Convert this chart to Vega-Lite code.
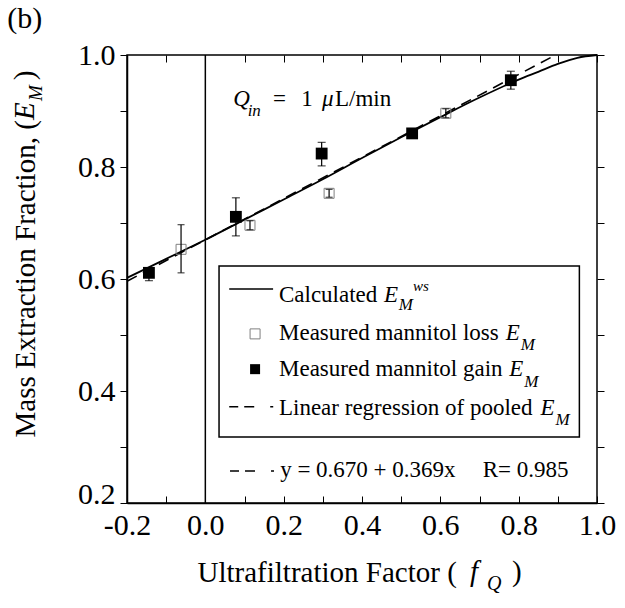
{
  "$schema": "https://vega.github.io/schema/vega-lite/v6.json",
  "width": 470,
  "height": 448,
  "autosize": {"type": "none"},
  "padding": {"left": 127, "top": 55, "right": 28, "bottom": 105},
  "background": "white",
  "config": {"view": {"stroke": "black", "strokeWidth": 1.5}},
  "datasets": {
    "calc": [
      {"x": -0.2, "y": 0.602}, {"x": -0.1, "y": 0.636}, {"x": 0.0, "y": 0.670}, {"x": 0.1, "y": 0.706},
      {"x": 0.2, "y": 0.742}, {"x": 0.3, "y": 0.778}, {"x": 0.4, "y": 0.816}, {"x": 0.5, "y": 0.853},
      {"x": 0.6, "y": 0.889}, {"x": 0.7, "y": 0.924}, {"x": 0.8, "y": 0.956}, {"x": 0.85, "y": 0.970},
      {"x": 0.9, "y": 0.984}, {"x": 0.95, "y": 0.995}, {"x": 1.0, "y": 1.0}
    ],
    "reg": [{"x": -0.2, "y": 0.596}, {"x": 0.894, "y": 1.0}],
    "zero": [{"x": 0}],
    "gain": [
      {"x": -0.144, "y": 0.611, "lo": 0.597, "hi": 0.620},
      {"x": 0.078, "y": 0.711, "lo": 0.677, "hi": 0.745},
      {"x": 0.297, "y": 0.824, "lo": 0.802, "hi": 0.844},
      {"x": 0.528, "y": 0.860, "lo": 0.855, "hi": 0.866},
      {"x": 0.780, "y": 0.955, "lo": 0.939, "hi": 0.971}
    ],
    "loss": [
      {"x": -0.062, "y": 0.653, "lo": 0.611, "hi": 0.697},
      {"x": 0.114, "y": 0.696, "lo": 0.688, "hi": 0.704},
      {"x": 0.316, "y": 0.753, "lo": 0.746, "hi": 0.760},
      {"x": 0.614, "y": 0.896, "lo": 0.888, "hi": 0.904}
    ],
    "box": [{"x1": 0.035, "x2": 0.955, "y1": 0.318, "y2": 0.623}],
    "legLine": [{"x1": 0.061, "x2": 0.173, "y": 0.582}],
    "legDash": [{"x1": 0.061, "x2": 0.176, "y": 0.372}, {"x1": 0.063, "x2": 0.182, "y": 0.257}],
    "legOpen": [{"x": 0.127, "y": 0.502}],
    "legFilled": [{"x": 0.127, "y": 0.439}],
    "panel": [{"x": -0.506, "y": 1.048, "t": "(b)"}],
    "txtMain": [
      {"x": 0.173, "y": 0.909, "t": "="},
      {"x": 0.245, "y": 0.909, "t": "1"},
      {"x": 0.331, "y": 0.909, "t": "L/min"},
      {"x": 0.188, "y": 0.559, "t": "Calculated"},
      {"x": 0.188, "y": 0.491, "t": "Measured mannitol loss"},
      {"x": 0.188, "y": 0.426, "t": "Measured mannitol gain"},
      {"x": 0.188, "y": 0.357, "t": "Linear regression of pooled"},
      {"x": 0.191, "y": 0.247, "t": "y = 0.670 + 0.369x"},
      {"x": 0.708, "y": 0.247, "t": "R= 0.985"}
    ],
    "txtItal": [
      {"x": 0.0714, "y": 0.909, "t": "Q"},
      {"x": 0.298, "y": 0.909, "t": "μ"},
      {"x": 0.456, "y": 0.559, "t": "E"},
      {"x": 0.767, "y": 0.491, "t": "E"},
      {"x": 0.776, "y": 0.426, "t": "E"},
      {"x": 0.856, "y": 0.357, "t": "E"}
    ],
    "txtSub": [
      {"x": 0.108, "y": 0.891, "t": "in"},
      {"x": 0.494, "y": 0.545, "t": "M"},
      {"x": 0.805, "y": 0.474, "t": "M"},
      {"x": 0.814, "y": 0.408, "t": "M"},
      {"x": 0.894, "y": 0.339, "t": "M"}
    ],
    "txtSup": [{"x": 0.530, "y": 0.579, "t": "ws"}],
    "yTitleE": [{"x": -0.438, "y": 0.884, "t": "E"}],
    "yTitleM": [{"x": -0.417, "y": 0.918, "t": "M"}],
    "yTitleP": [{"x": -0.438, "y": 0.955, "t": ")"}],
    "xTitleF": [{"x": 0.676, "y": 0.0607, "t": "f"}],
    "xTitleQ": [{"x": 0.719, "y": 0.0446, "t": "Q"}],
    "xTitleP": [{"x": 0.783, "y": 0.0607, "t": ")"}]
  },
  "layer": [
    {
      "data": {"name": "calc"},
      "mark": {"type": "line", "color": "black", "strokeWidth": 1.8, "interpolate": "monotone"},
      "encoding": {
        "x": {"field": "x", "type": "quantitative", "scale": {"domain": [-0.2, 1.0], "nice": false, "zero": false},
          "axis": {"orient": "bottom", "values": [-0.2, -0.1, 0, 0.1, 0.2, 0.3, 0.4, 0.5, 0.6, 0.7, 0.8, 0.9, 1.0],
            "labelExpr": "abs(round(datum.value*10)) % 2 == 0 ? replace(format(datum.value, '.1f'), '\u2212', '-') : ''",
            "grid": false, "tickSize": -7, "tickColor": "black", "tickWidth": 1, "domainColor": "black", "domainWidth": 1.5,
            "labelFont": "Liberation Serif", "labelFontSize": 30, "labelColor": "black", "labelPadding": 38, "labelBaseline": "alphabetic",
            "labelFlush": false, "labelOverlap": false,
            "title": "Ultrafiltration Factor (", "titleFont": "Liberation Serif", "titleFontSize": 29, "titleFontWeight": "normal", "titleColor": "black",
            "titleX": 70, "titleY": 78, "titleAlign": "left", "titleBaseline": "alphabetic"}},
        "y": {"field": "y", "type": "quantitative", "scale": {"domain": [0.2, 1.0], "nice": false, "zero": false},
          "axis": {"orient": "left", "values": [0.2, 0.3, 0.4, 0.5, 0.6, 0.7, 0.8, 0.9, 1.0],
            "labelExpr": "round(datum.value*10) % 2 == 0 ? format(datum.value, '.1f') : ''",
            "grid": false, "tickSize": 7, "tickColor": "black", "tickWidth": 1, "domainColor": "black", "domainWidth": 1.5,
            "labelFont": "Liberation Serif", "labelFontSize": 30, "labelColor": "black", "labelPadding": 5,
            "labelBaseline": {"condition": {"test": "datum.value < 0.25", "value": "alphabetic"}, "value": "middle"},
            "labelFlush": false, "labelOverlap": false,
            "title": "Mass Extraction Fraction, (", "titleFont": "Liberation Serif", "titleFontSize": 29, "titleFontWeight": "normal", "titleColor": "black",
            "titleX": -93, "titleY": 382, "titleAngle": 270, "titleAlign": "left", "titleBaseline": "alphabetic"}}
      }
    },
    {
      "data": {"name": "reg"},
      "mark": {"type": "line", "color": "black", "strokeWidth": 1.6, "strokeDash": [11, 7]},
      "encoding": {
        "x": {"field": "x", "type": "quantitative", "scale": {"domain": [-0.2, 1.0], "nice": false, "zero": false},
          "axis": {"orient": "top", "values": [-0.2, -0.1, 0, 0.1, 0.2, 0.3, 0.4, 0.5, 0.6, 0.7, 0.8, 0.9, 1.0], "labels": false, "domain": false, "grid": false,
            "tickSize": -7, "tickColor": "black", "tickWidth": 1, "title": null}},
        "y": {"field": "y", "type": "quantitative", "scale": {"domain": [0.2, 1.0], "nice": false, "zero": false},
          "axis": {"orient": "right", "values": [0.2, 0.3, 0.4, 0.5, 0.6, 0.7, 0.8, 0.9, 1.0], "labels": false, "domain": false, "grid": false,
            "tickSize": 7, "tickColor": "black", "tickWidth": 1, "title": null}}
      }
    },
    {
      "data": {"name": "zero"},
      "mark": {"type": "rule", "color": "black", "strokeWidth": 1.5},
      "encoding": {"x": {"field": "x", "type": "quantitative", "scale": {"domain": [-0.2, 1.0], "nice": false, "zero": false}, "axis": null}}
    },
    {
      "data": {"name": "box"},
      "mark": {"type": "rect", "fill": "white", "stroke": "black", "strokeWidth": 1.5},
      "encoding": {
        "x": {"field": "x1", "type": "quantitative", "scale": {"domain": [-0.2, 1.0], "nice": false, "zero": false}, "axis": null},
        "x2": {"field": "x2"},
        "y": {"field": "y1", "type": "quantitative", "scale": {"domain": [0.2, 1.0], "nice": false, "zero": false}, "axis": null},
        "y2": {"field": "y2"}
      }
    },
    {
      "data": {"name": "gain"},
      "layer": [
        {"mark": {"type": "rule", "color": "black", "strokeWidth": 1.2},
         "encoding": {"x": {"field": "x", "type": "quantitative", "scale": {"domain": [-0.2, 1.0], "nice": false, "zero": false}, "axis": null},
           "y": {"field": "lo", "type": "quantitative", "scale": {"domain": [0.2, 1.0], "nice": false, "zero": false}, "axis": null}, "y2": {"field": "hi"}}},
        {"mark": {"type": "tick", "orient": "horizontal", "color": "black", "size": 8, "thickness": 1.2},
         "encoding": {"x": {"field": "x", "type": "quantitative", "scale": {"domain": [-0.2, 1.0], "nice": false, "zero": false}, "axis": null},
           "y": {"field": "lo", "type": "quantitative", "scale": {"domain": [0.2, 1.0], "nice": false, "zero": false}, "axis": null}}},
        {"mark": {"type": "tick", "orient": "horizontal", "color": "black", "size": 8, "thickness": 1.2},
         "encoding": {"x": {"field": "x", "type": "quantitative", "scale": {"domain": [-0.2, 1.0], "nice": false, "zero": false}, "axis": null},
           "y": {"field": "hi", "type": "quantitative", "scale": {"domain": [0.2, 1.0], "nice": false, "zero": false}, "axis": null}}},
        {"mark": {"type": "square", "color": "black", "filled": true, "opacity": 1, "size": 140},
         "encoding": {"x": {"field": "x", "type": "quantitative", "scale": {"domain": [-0.2, 1.0], "nice": false, "zero": false}, "axis": null},
           "y": {"field": "y", "type": "quantitative", "scale": {"domain": [0.2, 1.0], "nice": false, "zero": false}, "axis": null}}}
      ]
    },
    {
      "data": {"name": "loss"},
      "layer": [
        {"mark": {"type": "square", "stroke": "#808080", "fill": null, "filled": false, "strokeWidth": 1, "opacity": 1, "size": 100},
         "encoding": {"x": {"field": "x", "type": "quantitative", "scale": {"domain": [-0.2, 1.0], "nice": false, "zero": false}, "axis": null},
           "y": {"field": "y", "type": "quantitative", "scale": {"domain": [0.2, 1.0], "nice": false, "zero": false}, "axis": null}}},
        {"mark": {"type": "rule", "color": "black", "strokeWidth": 1.2},
         "encoding": {"x": {"field": "x", "type": "quantitative", "scale": {"domain": [-0.2, 1.0], "nice": false, "zero": false}, "axis": null},
           "y": {"field": "lo", "type": "quantitative", "scale": {"domain": [0.2, 1.0], "nice": false, "zero": false}, "axis": null}, "y2": {"field": "hi"}}},
        {"mark": {"type": "tick", "orient": "horizontal", "color": "black", "size": 7, "thickness": 1.2},
         "encoding": {"x": {"field": "x", "type": "quantitative", "scale": {"domain": [-0.2, 1.0], "nice": false, "zero": false}, "axis": null},
           "y": {"field": "lo", "type": "quantitative", "scale": {"domain": [0.2, 1.0], "nice": false, "zero": false}, "axis": null}}},
        {"mark": {"type": "tick", "orient": "horizontal", "color": "black", "size": 7, "thickness": 1.2},
         "encoding": {"x": {"field": "x", "type": "quantitative", "scale": {"domain": [-0.2, 1.0], "nice": false, "zero": false}, "axis": null},
           "y": {"field": "hi", "type": "quantitative", "scale": {"domain": [0.2, 1.0], "nice": false, "zero": false}, "axis": null}}}
      ]
    },
    {
      "data": {"name": "legLine"},
      "mark": {"type": "rule", "color": "black", "strokeWidth": 1.5},
      "encoding": {
        "x": {"field": "x1", "type": "quantitative", "scale": {"domain": [-0.2, 1.0], "nice": false, "zero": false}, "axis": null},
        "x2": {"field": "x2"},
        "y": {"field": "y", "type": "quantitative", "scale": {"domain": [0.2, 1.0], "nice": false, "zero": false}, "axis": null}
      }
    },
    {
      "data": {"name": "legDash"},
      "mark": {"type": "rule", "color": "black", "strokeWidth": 1.5, "strokeDash": [9, 6, 10, 16, 3, 100]},
      "encoding": {
        "x": {"field": "x1", "type": "quantitative", "scale": {"domain": [-0.2, 1.0], "nice": false, "zero": false}, "axis": null},
        "x2": {"field": "x2"},
        "y": {"field": "y", "type": "quantitative", "scale": {"domain": [0.2, 1.0], "nice": false, "zero": false}, "axis": null}
      }
    },
    {
      "data": {"name": "legOpen"},
      "mark": {"type": "square", "stroke": "#808080", "fill": "white", "filled": false, "strokeWidth": 1, "opacity": 1, "size": 100},
      "encoding": {
        "x": {"field": "x", "type": "quantitative", "scale": {"domain": [-0.2, 1.0], "nice": false, "zero": false}, "axis": null},
        "y": {"field": "y", "type": "quantitative", "scale": {"domain": [0.2, 1.0], "nice": false, "zero": false}, "axis": null}
      }
    },
    {
      "data": {"name": "legFilled"},
      "mark": {"type": "square", "color": "black", "filled": true, "opacity": 1, "size": 100},
      "encoding": {
        "x": {"field": "x", "type": "quantitative", "scale": {"domain": [-0.2, 1.0], "nice": false, "zero": false}, "axis": null},
        "y": {"field": "y", "type": "quantitative", "scale": {"domain": [0.2, 1.0], "nice": false, "zero": false}, "axis": null}
      }
    },
    {
      "data": {"name": "panel"},
      "mark": {"type": "text", "font": "Liberation Serif", "fontSize": 30, "color": "black", "align": "left", "baseline": "alphabetic"},
      "encoding": {
        "x": {"field": "x", "type": "quantitative", "scale": {"domain": [-0.2, 1.0], "nice": false, "zero": false}, "axis": null},
        "y": {"field": "y", "type": "quantitative", "scale": {"domain": [0.2, 1.0], "nice": false, "zero": false}, "axis": null},
        "text": {"field": "t"}
      }
    },
    {
      "data": {"name": "txtMain"},
      "mark": {"type": "text", "font": "Liberation Serif", "fontSize": 23, "color": "black", "align": "left", "baseline": "alphabetic"},
      "encoding": {
        "x": {"field": "x", "type": "quantitative", "scale": {"domain": [-0.2, 1.0], "nice": false, "zero": false}, "axis": null},
        "y": {"field": "y", "type": "quantitative", "scale": {"domain": [0.2, 1.0], "nice": false, "zero": false}, "axis": null},
        "text": {"field": "t"}
      }
    },
    {
      "data": {"name": "txtItal"},
      "mark": {"type": "text", "font": "Liberation Serif", "fontSize": 23, "fontStyle": "italic", "color": "black", "align": "left", "baseline": "alphabetic"},
      "encoding": {
        "x": {"field": "x", "type": "quantitative", "scale": {"domain": [-0.2, 1.0], "nice": false, "zero": false}, "axis": null},
        "y": {"field": "y", "type": "quantitative", "scale": {"domain": [0.2, 1.0], "nice": false, "zero": false}, "axis": null},
        "text": {"field": "t"}
      }
    },
    {
      "data": {"name": "txtSub"},
      "mark": {"type": "text", "font": "Liberation Serif", "fontSize": 17, "fontStyle": "italic", "color": "black", "align": "left", "baseline": "alphabetic"},
      "encoding": {
        "x": {"field": "x", "type": "quantitative", "scale": {"domain": [-0.2, 1.0], "nice": false, "zero": false}, "axis": null},
        "y": {"field": "y", "type": "quantitative", "scale": {"domain": [0.2, 1.0], "nice": false, "zero": false}, "axis": null},
        "text": {"field": "t"}
      }
    },
    {
      "data": {"name": "txtSup"},
      "mark": {"type": "text", "font": "Liberation Serif", "fontSize": 15, "fontStyle": "italic", "color": "black", "align": "left", "baseline": "alphabetic"},
      "encoding": {
        "x": {"field": "x", "type": "quantitative", "scale": {"domain": [-0.2, 1.0], "nice": false, "zero": false}, "axis": null},
        "y": {"field": "y", "type": "quantitative", "scale": {"domain": [0.2, 1.0], "nice": false, "zero": false}, "axis": null},
        "text": {"field": "t"}
      }
    },
    {
      "data": {"name": "yTitleE"},
      "mark": {"type": "text", "font": "Liberation Serif", "fontSize": 29, "fontStyle": "italic", "color": "black", "align": "left", "baseline": "alphabetic", "angle": 270},
      "encoding": {
        "x": {"field": "x", "type": "quantitative", "scale": {"domain": [-0.2, 1.0], "nice": false, "zero": false}, "axis": null},
        "y": {"field": "y", "type": "quantitative", "scale": {"domain": [0.2, 1.0], "nice": false, "zero": false}, "axis": null},
        "text": {"field": "t"}
      }
    },
    {
      "data": {"name": "yTitleM"},
      "mark": {"type": "text", "font": "Liberation Serif", "fontSize": 19, "fontStyle": "italic", "color": "black", "align": "left", "baseline": "alphabetic", "angle": 270},
      "encoding": {
        "x": {"field": "x", "type": "quantitative", "scale": {"domain": [-0.2, 1.0], "nice": false, "zero": false}, "axis": null},
        "y": {"field": "y", "type": "quantitative", "scale": {"domain": [0.2, 1.0], "nice": false, "zero": false}, "axis": null},
        "text": {"field": "t"}
      }
    },
    {
      "data": {"name": "yTitleP"},
      "mark": {"type": "text", "font": "Liberation Serif", "fontSize": 29, "color": "black", "align": "left", "baseline": "alphabetic", "angle": 270},
      "encoding": {
        "x": {"field": "x", "type": "quantitative", "scale": {"domain": [-0.2, 1.0], "nice": false, "zero": false}, "axis": null},
        "y": {"field": "y", "type": "quantitative", "scale": {"domain": [0.2, 1.0], "nice": false, "zero": false}, "axis": null},
        "text": {"field": "t"}
      }
    },
    {
      "data": {"name": "xTitleF"},
      "mark": {"type": "text", "font": "Liberation Serif", "fontSize": 29, "fontStyle": "italic", "color": "black", "align": "left", "baseline": "alphabetic"},
      "encoding": {
        "x": {"field": "x", "type": "quantitative", "scale": {"domain": [-0.2, 1.0], "nice": false, "zero": false}, "axis": null},
        "y": {"field": "y", "type": "quantitative", "scale": {"domain": [0.2, 1.0], "nice": false, "zero": false}, "axis": null},
        "text": {"field": "t"}
      }
    },
    {
      "data": {"name": "xTitleQ"},
      "mark": {"type": "text", "font": "Liberation Serif", "fontSize": 20, "fontStyle": "italic", "color": "black", "align": "left", "baseline": "alphabetic"},
      "encoding": {
        "x": {"field": "x", "type": "quantitative", "scale": {"domain": [-0.2, 1.0], "nice": false, "zero": false}, "axis": null},
        "y": {"field": "y", "type": "quantitative", "scale": {"domain": [0.2, 1.0], "nice": false, "zero": false}, "axis": null},
        "text": {"field": "t"}
      }
    },
    {
      "data": {"name": "xTitleP"},
      "mark": {"type": "text", "font": "Liberation Serif", "fontSize": 29, "color": "black", "align": "left", "baseline": "alphabetic"},
      "encoding": {
        "x": {"field": "x", "type": "quantitative", "scale": {"domain": [-0.2, 1.0], "nice": false, "zero": false}, "axis": null},
        "y": {"field": "y", "type": "quantitative", "scale": {"domain": [0.2, 1.0], "nice": false, "zero": false}, "axis": null},
        "text": {"field": "t"}
      }
    }
  ]
}
